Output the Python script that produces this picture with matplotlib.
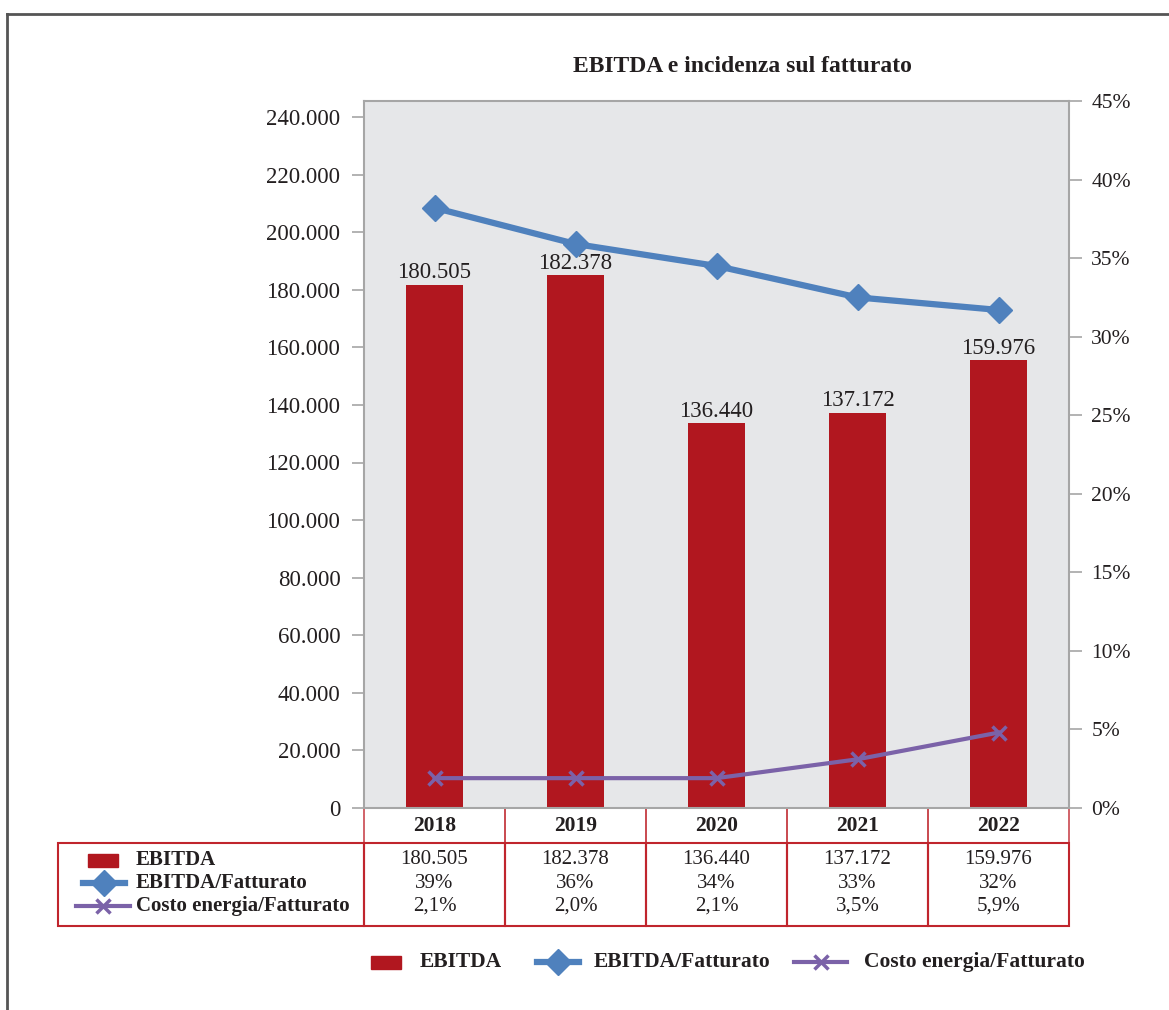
import matplotlib.pyplot as plt
import matplotlib.transforms as mtransforms
from matplotlib.patches import Rectangle
from matplotlib.lines import Line2D

# data
years = ["2018", "2019", "2020", "2021", "2022"]
ebitda = [181700, 185100, 133600, 137300, 155600]
ebitda_labels = ["180.505", "182.378", "136.440", "137.172", "159.976"]
ebitda_pct = [38.2, 35.9, 34.5, 32.5, 31.7]
energia_pct = [1.9, 1.9, 1.9, 3.1, 4.8]
pct_labels = ["39%", "36%", "34%", "33%", "32%"]
energia_labels = ["2,1%", "2,0%", "2,1%", "3,5%", "5,9%"]
row_names = ["EBITDA", "EBITDA/Fatturato", "Costo energia/Fatturato"]
left_ticks = list(range(0, 240001, 20000))
right_ticks = list(range(0, 46, 5))

RED = "#B1171F"
BLUE = "#4F81BD"
PURPLE = "#7B62A8"
GRID_BG = "#E6E7E9"
SPINE = "#A6A6A6"
TXT = "#231F20"
CELL = "#C0252D"

plt.rcParams["font.family"] = ["Liberation Serif", "DejaVu Serif"]

W, H = 1169, 1010
fig = plt.figure(figsize=(W / 100, H / 100), dpi=100)


def fx(px):
    return px / W


def fy(py):
    return 1 - py / H


ft = fig.transFigure

# plot area in pixels
x0, x1, ytop, ybot = 364, 1069, 101, 808
ax = fig.add_axes([x0 / W, 1 - ybot / H, (x1 - x0) / W, (ybot - ytop) / H])
ax.set_facecolor(GRID_BG)
for s in ax.spines.values():
    s.set_color(SPINE)
    s.set_linewidth(1.5)

xs = list(range(len(years)))
bars = ax.bar(xs, ebitda, width=0.4, color=RED, zorder=2)
for b, lab in zip(bars, ebitda_labels):
    ax.annotate(lab, (b.get_x() + b.get_width() / 2, b.get_height()),
                xytext=(0, 1), textcoords="offset points",
                ha="center", va="bottom", fontsize=16.5, color=TXT)

ax.set_xlim(-0.5, 4.5)
ymax = 240000 * (ybot - ytop) / (ybot - 117)
ax.set_ylim(0, ymax)
ax.set_yticks(left_ticks)
ax.set_yticklabels(["0" if v == 0 else f"{v // 1000}.000" for v in left_ticks])
ax.set_xticks([])
ax.tick_params(axis="y", length=9, width=1.2, color=SPINE, labelsize=16.5,
               labelcolor=TXT, pad=8)

ax2 = ax.twinx()
ax2.set_ylim(0, 45)
ax2.set_yticks(right_ticks)
ax2.set_yticklabels([f"{v}%" for v in right_ticks])
ax2.tick_params(axis="y", length=9, width=1.2, color=SPINE, labelsize=15.5,
                labelcolor=TXT, pad=7)
for s in ax2.spines.values():
    s.set_visible(False)
ax2.plot(xs, ebitda_pct, color=BLUE, lw=4.5, marker="D", ms=13, zorder=3)
ax2.plot(xs, energia_pct, color=PURPLE, lw=3, marker="x", ms=10, mew=2.5, zorder=3)

fig.text(fx(742), fy(66), "EBITDA e incidenza sul fatturato",
         ha="center", va="center", fontsize=17, fontweight="bold", color=TXT)

# data table below the plot
tr = mtransforms.blended_transform_factory(ax.transData, ax.transAxes)


def ay(py):
    return (ybot - py) / (ybot - ytop)


for i in xs:
    ax.add_patch(Rectangle((i - 0.5, ay(843)), 1, ay(808) - ay(843), transform=tr,
                           fill=False, ec="#C9484F", lw=1.2, clip_on=False))
    ax.add_patch(Rectangle((i - 0.5, ay(926)), 1, ay(843) - ay(926), transform=tr,
                           fill=False, ec=CELL, lw=1.5, clip_on=False))
    ax.text(i, ay(826), years[i], transform=tr, ha="center", va="center",
            fontsize=15.5, fontweight="bold", color=TXT)
    ax.text(i, ay(860), ebitda_labels[i], transform=tr, ha="center", va="center",
            fontsize=15, color=TXT)
    ax.text(i, ay(884), pct_labels[i], transform=tr, ha="center", va="center",
            fontsize=15, color=TXT)
    ax.text(i, ay(906), energia_labels[i], transform=tr, ha="center", va="center",
            fontsize=15, color=TXT)

lab_x0 = -0.5 + (58 - x0) / ((x1 - x0) / 5)
ax.add_patch(Rectangle((lab_x0, ay(926)), -0.5 - lab_x0, ay(843) - ay(926), transform=tr,
                       fill=False, ec=CELL, lw=1.5, clip_on=False))


def key_bar(xa, xb, py):
    fig.patches.append(Rectangle((fx(xa), fy(py + 6.5)), fx(xb) - fx(xa), 13 / H,
                                 transform=ft, color=RED))


def key_line(xa, xb, py, color, lw, marker, ms, mew=1.0):
    fig.lines.append(Line2D([fx(xa), fx((xa + xb) / 2), fx(xb)], [fy(py)] * 3,
                            transform=ft, color=color, lw=lw, marker=marker,
                            ms=ms, mew=mew, markevery=[1]))


# row keys inside the table
key_bar(88, 118, 860)
key_line(83, 125, 883, BLUE, 4.5, "D", 13)
key_line(76, 130, 906, PURPLE, 3, "x", 10, 2.5)
for name, py in zip(row_names, [860, 883, 906]):
    fig.text(fx(136), fy(py), name, ha="left", va="center", fontsize=15,
             fontweight="bold", color=TXT)

# legend below the table
key_bar(371, 401, 962)
key_line(537, 579, 962, BLUE, 4.5, "D", 13)
key_line(794, 847, 962, PURPLE, 3, "x", 10, 2.5)
for name, px in zip(row_names, [420, 594, 864]):
    fig.text(fx(px), fy(962), name, ha="left", va="center", fontsize=15.5,
             fontweight="bold", color=TXT)

# frame lines
fig.lines.append(Line2D([fx(7), fx(7)], [fy(14), 0], transform=ft, color="#555555", lw=2))
fig.lines.append(Line2D([fx(7), fx(1168)], [fy(14), fy(14)], transform=ft,
                        color="#555555", lw=2))

fig.savefig("out.png", dpi=100)
